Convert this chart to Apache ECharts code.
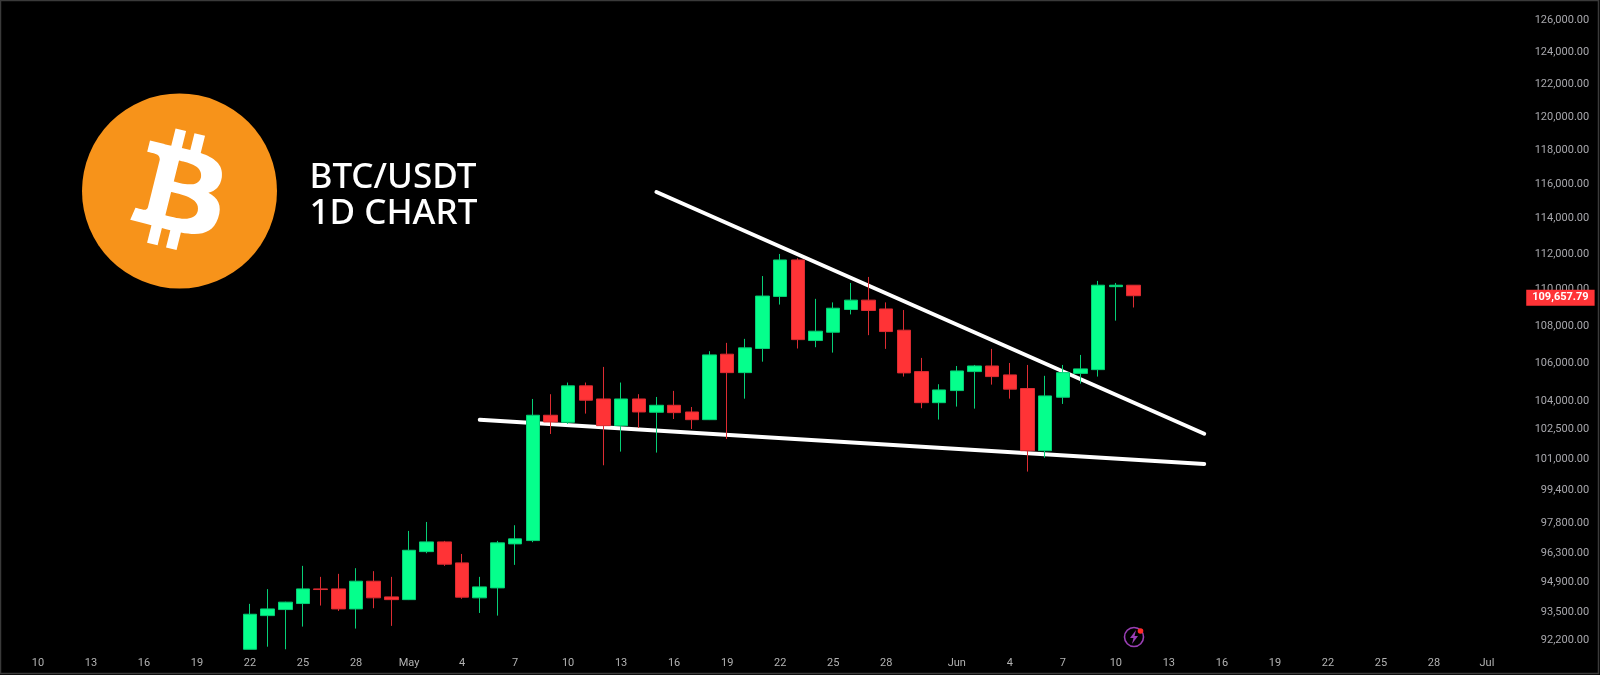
<!DOCTYPE html>
<html>
<head>
<meta charset="utf-8">
<style>html,body{margin:0;padding:0;background:#000}#c{width:1600px;height:675px}</style>
<script src="https://cdn.jsdelivr.net/npm/echarts@6/dist/echarts.min.js"></script>
</head>
<body>
<div id="c"></div>
<script>
const categories = [
 'Apr 10','Apr 11','Apr 12','Apr 13','Apr 14','Apr 15','Apr 16','Apr 17','Apr 18','Apr 19','Apr 20','Apr 21','Apr 22','Apr 23','Apr 24','Apr 25','Apr 26','Apr 27','Apr 28','Apr 29','Apr 30',
 'May 1','May 2','May 3','May 4','May 5','May 6','May 7','May 8','May 9','May 10','May 11','May 12','May 13','May 14','May 15','May 16','May 17','May 18','May 19','May 20','May 21','May 22','May 23','May 24','May 25','May 26','May 27','May 28','May 29','May 30','May 31',
 'Jun 1','Jun 2','Jun 3','Jun 4','Jun 5','Jun 6','Jun 7','Jun 8','Jun 9','Jun 10','Jun 11','Jun 12','Jun 13','Jun 14','Jun 15','Jun 16','Jun 17','Jun 18','Jun 19','Jun 20','Jun 21','Jun 22','Jun 23','Jun 24','Jun 25','Jun 26','Jun 27','Jun 28','Jun 29','Jun 30','Jul 1'];
const candleDates = categories.slice(categories.indexOf('Apr 22'), categories.indexOf('Jun 11') + 1);
const opens = [91765,93335,93620,93905,94600,94600,93650,94967,94220,94090,96393,96867,95848,94175,94648,96770,96931,103250,102885,104790,104100,102710,104100,103405,103770,103420,103020,106475,105490,106780,109620,111653,107210,107660,108900,109415,108930,107770,105545,103905,104540,105545,105845,105370,104650,101420,104190,105450,105650,110160,110240];
const closes = [93400,93650,93970,94600,94570,93650,94967,94175,94090,96460,96867,95785,94206,94696,96820,97015,103250,102900,104790,104035,102710,104100,103420,103770,103385,103020,106437,105490,106815,109640,111653,107260,107715,108970,109415,108845,107695,105475,103905,104575,105580,105845,105280,104615,101420,104260,105490,105690,110240,110240,109657.79];
const lows = [91765,91885,91765,92820,93810,93555,92728,93685,92854,94070,96315,95704,94130,93460,93335,95752,96853,102280,102800,103335,100680,101375,102590,101325,103055,102535,103000,102024,104116,106075,109170,106780,106850,106560,108630,107500,106760,105280,103615,103025,103700,103595,104855,104116,100360,101065,103840,104910,105280,108290,109010];
const highs = [93890,94590,93990,95704,95175,95320,95593,95449,95175,97404,97845,96915,96280,95175,96915,97683,104100,104350,104965,104965,105795,104965,104350,104205,104525,103680,106636,107085,107300,110750,111990,111750,109485,109290,110365,110700,109290,108870,106275,104875,105845,105900,106760,106005,105900,105320,105900,106435,110480,110365,110240];
const upperTrend = [['May 15',115540],['Jun 15',102290]];
const lowerTrend = [['May 5',103010],['Jun 15',100750]];
const priceTicks = [126000,124000,122000,120000,118000,116000,114000,112000,110000,108000,106000,104000,102500,101000,99400,97800,96300,94900,93500,92200];
const dateTickCats = ['Apr 10','Apr 13','Apr 16','Apr 19','Apr 22','Apr 25','Apr 28','May 1','May 4','May 7','May 10','May 13','May 16','May 19','May 22','May 25','May 28','Jun 1','Jun 4','Jun 7','Jun 10','Jun 13','Jun 16','Jun 19','Jun 22','Jun 25','Jun 28','Jul 1'];
const dateTickLabels = ['10','13','16','19','22','25','28','May','4','7','10','13','16','19','22','25','28','Jun','4','7','10','13','16','19','22','25','28','Jul'];
const lastPrice = 109657.79;
const titleLines = ['BTC/USDT','1D CHART'];

const fmtPrice = v => Number(v).toLocaleString('en-US',{minimumFractionDigits:2,maximumFractionDigits:2});
const candleData = categories.map(c => {
  const i = candleDates.indexOf(c);
  return i < 0 ? '-' : [opens[i], closes[i], lows[i], highs[i]];
});
const B = 'M46.11 27.441c.636-4.258-2.606-6.547-7.039-8.074l1.438-5.768-3.512-.875-1.4 5.616c-.922-.23-1.87-.447-2.812-.662l1.41-5.653-3.509-.875-1.439 5.766c-.764-.174-1.514-.346-2.242-.527l.004-.018-4.842-1.209-.934 3.75s2.605.597 2.55.634c1.422.355 1.68 1.296 1.636 2.042l-1.638 6.571c.098.025.225.061.365.117l-.37-.092-2.297 9.205c-.174.432-.615 1.08-1.609.834.035.051-2.552-.637-2.552-.637l-1.743 4.02 4.57 1.139c.85.213 1.683.436 2.502.646l-1.453 5.835 3.507.875 1.44-5.772c.957.26 1.887.5 2.797.726L27.504 50.8l3.511.875 1.453-5.823c5.987 1.133 10.49.676 12.383-4.738 1.527-4.36-.075-6.875-3.225-8.516 2.294-.531 4.022-2.04 4.483-5.157zM38.087 38.69c-1.086 4.36-8.426 2.004-10.807 1.412l1.928-7.729c2.38.594 10.011 1.77 8.88 6.317zm1.085-11.312c-.99 3.966-7.1 1.951-9.083 1.457l1.748-7.01c1.983.494 8.08 1.416 7.335 5.553z';
const trendStyle = {color:'#fff',width:4,cap:'round'};
const chart = echarts.init(document.getElementById('c'));
chart.setOption({
  animation:false,
  backgroundColor:'#000',
  textStyle:{fontFamily:'Roboto'},
  grid:{left:29.165,top:0,bottom:23,width:1466.6},
  xAxis:{type:'category',data:categories,boundaryGap:true,
    axisLine:{show:false},axisTick:{show:false},splitLine:{show:false},
    axisLabel:{customValues:dateTickCats,color:'#b2b2b2',fontSize:11,fontFamily:'Roboto',margin:6,
      formatter:(v)=>{const i=dateTickCats.indexOf(v);return i<0?'':dateTickLabels[i];}}},
  yAxis:{type:'log',logBase:10,position:'right',min:91640,max:127276,
    axisLine:{show:false},axisTick:{show:false},splitLine:{show:false},minorTick:{show:false},
    axisLabel:{customValues:priceTicks,color:'#a8a8ad',fontSize:11,fontFamily:'Roboto',align:'right',margin:93.4,padding:[2,0,0,0],
      formatter:(v)=>fmtPrice(v)}},
  series:[
    {type:'line',name:'upper',data:upperTrend,symbol:'none',connectNulls:true,lineStyle:trendStyle,z:1,silent:true},
    {type:'line',name:'lower',data:lowerTrend,symbol:'none',connectNulls:true,lineStyle:trendStyle,z:1,silent:true},
    {type:'candlestick',name:'BTC/USDT',data:candleData,barWidth:14,z:2,
      itemStyle:{color:'#05ff8c',color0:'#ff3336',borderColor:'#06cf76',borderColor0:'#dd2c32',borderWidth:1},
      markPoint:{silent:true,symbol:'rect',symbolSize:0,
        data:[{coord:['Jul 1',lastPrice]}],
        label:{show:true,position:'inside',offset:[73.5,2],formatter:()=>fmtPrice(lastPrice),
          color:'#fff',fontFamily:'Roboto',fontSize:11,fontWeight:'bold',
          backgroundColor:'#ff3336',padding:[3,6,2,6],lineHeight:11}}},
    {type:'custom',name:'logo',coordinateSystem:'none',silent:true,z:51,data:[0],
      renderItem:()=>({type:'path',x:83.5,y:95,scaleX:3,scaleY:3,shape:{pathData:B},style:{fill:'#fff'}})}
  ],
  graphic:[
    {type:'rect',z:100,silent:true,shape:{x:0.5,y:0.5,width:1598,height:673},style:{fill:'none',stroke:'#3a3a3a',lineWidth:1.5}},
    {type:'circle',z:0,silent:true,shape:{cx:179.5,cy:191,r:97.5},style:{fill:'#f7931a'}},
    {type:'text',z:51,silent:true,x:309.5,y:178,style:{text:titleLines[0],fill:'#fff',font:'500 35px "Noto Sans"',textVerticalAlign:'middle'}},
    {type:'text',z:51,silent:true,x:309.5,y:214.5,style:{text:titleLines[1],fill:'#fff',font:'500 35px "Noto Sans"',textVerticalAlign:'middle'}},
    {type:'circle',z:51,silent:true,shape:{cx:1134,cy:637,r:9.5},style:{fill:'none',stroke:'#9a3fb5',lineWidth:1.6}},
    {type:'polygon',z:52,silent:true,shape:{points:[[1136,630],[1130,638],[1133.5,638],[1132,644],[1138,636],[1134.5,636]]},style:{fill:'#9a3fb5'}},
    {type:'circle',z:53,silent:true,shape:{cx:1140.5,cy:631,r:2.8},style:{fill:'#ff2a2a'}}
  ]
});
</script>
</body>
</html>
